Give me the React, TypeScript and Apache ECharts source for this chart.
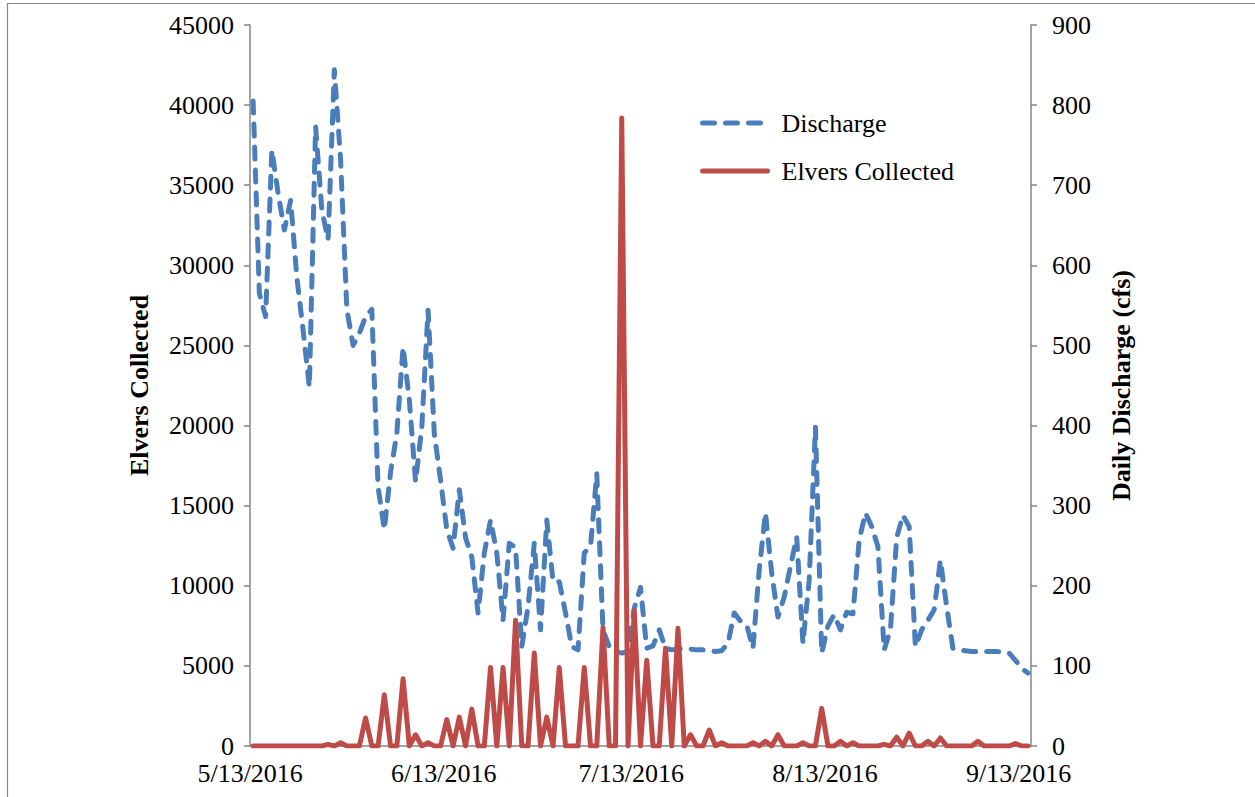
import React, { useEffect, useRef } from "react";
import * as echarts from "echarts";

const dayCount = 125;
const categories: string[] = [];
for (let i = 0; i < dayCount; i++) {
  const d = new Date(2016, 4, 13 + i);
  categories.push(`${d.getMonth() + 1}/${d.getDate()}/2016`);
}
const tickLabels = ["5/13/2016", "6/13/2016", "7/13/2016", "8/13/2016", "9/13/2016"];

// Daily discharge (cfs), right axis
const discharge = [
  805, 565, 536, 744, 690, 644, 681, 585, 519, 448,
  773, 669, 632, 844, 732, 545, 500, 515, 536, 545,
  323, 270, 342, 390, 498, 432, 330, 398, 544, 390,
  332, 270, 247, 320, 260, 236, 166, 241, 282, 241,
  157, 253, 248, 124, 174, 253, 145, 282, 205, 205,
  166, 124, 120, 241, 249, 340, 145, 124, 118, 116,
  118, 172, 198, 122, 125, 145, 122, 120, 121, 122,
  121, 120, 120, 119, 118, 119, 128, 166, 156, 151,
  122, 220, 291, 216, 161, 186, 224, 261, 128, 207,
  398, 116, 150, 164, 145, 167, 165, 257, 291, 274,
  249, 120, 145, 260, 288, 274, 124, 145, 157, 170,
  232, 174, 122, 120, 119, 118, 118, 118, 118, 118,
  117, 116, 107, 97, 91,
];

// Elvers collected, left axis
const elvers = [
  0, 0, 0, 0, 0, 0, 0, 0, 0, 0,
  0, 0, 100, 0, 200, 0, 0, 0, 1750, 0,
  0, 3200, 0, 0, 4200, 0, 700, 0, 200, 0,
  0, 1650, 0, 1800, 0, 2300, 0, 0, 4900, 0,
  4900, 0, 7850, 0, 0, 5800, 0, 1800, 0, 4900,
  0, 0, 0, 4900, 0, 0, 7400, 0, 0, 39200,
  0, 8450, 0, 5350, 0, 0, 6100, 0, 7350, 0,
  700, 0, 0, 1000, 0, 200, 0, 0, 0, 0,
  200, 0, 300, 0, 700, 0, 0, 0, 200, 0,
  0, 2350, 0, 0, 300, 0, 200, 0, 0, 0,
  0, 100, 0, 550, 0, 800, 0, 0, 300, 0,
  500, 0, 0, 0, 0, 0, 300, 0, 0, 0,
  0, 0, 150, 0, 0,
];

const FONT = "'Liberation Serif', 'Times New Roman', serif";
const AXIS_GRAY = "#868686";
const BLUE = "#4A7EBB";
const RED = "#BE4B48";
const DASH = [12, 11];

export default function App() {
  const ref = useRef<HTMLDivElement>(null);
  useEffect(() => {
    if (!ref.current) return;
    const chart = echarts.init(ref.current, undefined, { renderer: "svg" });
    const isTick = (_i: number, v: string) => tickLabels.indexOf(v) >= 0;
    const plain = (v: number) => String(v);
    chart.setOption({
      animation: false,
      backgroundColor: "#ffffff",
      textStyle: { fontFamily: FONT, color: "#000" },
      graphic: [
        {
          type: "rect",
          shape: { x: 7.5, y: 3.5, width: 1300, height: 900 },
          style: { fill: "none", stroke: AXIS_GRAY, lineWidth: 1.2 },
          silent: true,
          z: -1,
        },
      ],
      grid: { left: 250, right: 224, top: 25, bottom: 51, containLabel: false },
      legend: {
        orient: "vertical",
        left: 700,
        top: 110,
        padding: 0,
        itemWidth: 65,
        itemHeight: 14,
        itemGap: 22,
        itemStyle: { opacity: 0 },
        textStyle: { fontFamily: FONT, fontSize: 26, color: "#000", padding: [0, 0, 0, 9] },
        data: [
          {
            name: "Discharge",
            itemStyle: { opacity: 0 },
            lineStyle: { color: BLUE, width: 5, type: DASH, cap: "round" },
          },
          {
            name: "Elvers Collected",
            itemStyle: { opacity: 0 },
            lineStyle: { color: RED, width: 5, type: "solid", cap: "round" },
          },
        ],
      },
      xAxis: {
        type: "category",
        data: categories,
        boundaryGap: true,
        axisLine: { lineStyle: { color: AXIS_GRAY, width: 1.5 } },
        axisTick: { interval: isTick, length: 6, lineStyle: { color: AXIS_GRAY, width: 1.5 } },
        axisLabel: {
          interval: isTick,
          fontFamily: FONT,
          fontSize: 26,
          color: "#000",
          margin: 14,
          padding: [0, 6, 0, 0],
        },
        splitLine: { show: false },
      },
      yAxis: [
        {
          type: "value",
          position: "left",
          min: 0,
          max: 45000,
          interval: 5000,
          name: "Elvers Collected",
          nameLocation: "middle",
          nameGap: 98,
          nameTextStyle: { fontFamily: FONT, fontSize: 26, fontWeight: "bold", color: "#000" },
          axisLine: { show: true, lineStyle: { color: AXIS_GRAY, width: 1.5 } },
          axisTick: { show: true, length: 6, lineStyle: { color: AXIS_GRAY, width: 1.5 } },
          axisLabel: { fontFamily: FONT, fontSize: 26, color: "#000", margin: 16, formatter: plain },
          splitLine: { show: false },
        },
        {
          type: "value",
          position: "right",
          min: 0,
          max: 900,
          interval: 100,
          name: "Daily Discharge (cfs)",
          nameLocation: "middle",
          nameGap: 77,
          nameTextStyle: { fontFamily: FONT, fontSize: 26, fontWeight: "bold", color: "#000" },
          axisLine: { show: true, lineStyle: { color: AXIS_GRAY, width: 1.5 } },
          axisTick: { show: true, length: 6, lineStyle: { color: AXIS_GRAY, width: 1.5 } },
          axisLabel: { fontFamily: FONT, fontSize: 26, color: "#000", margin: 21, formatter: plain },
          splitLine: { show: false },
        },
      ],
      series: [
        {
          name: "Discharge",
          type: "line",
          yAxisIndex: 1,
          data: discharge,
          symbol: "none",
          lineStyle: { color: BLUE, width: 5, type: DASH, cap: "round", join: "round" },
          itemStyle: { color: BLUE },
          z: 2,
        },
        {
          name: "Elvers Collected",
          type: "line",
          yAxisIndex: 0,
          data: elvers,
          symbol: "none",
          lineStyle: { color: RED, width: 5, cap: "round", join: "round" },
          itemStyle: { color: RED },
          z: 3,
        },
      ],
    });
    return () => chart.dispose();
  }, []);
  return (
    <div
      ref={ref}
      style={{ position: "fixed", left: 0, top: 0, width: 1255, height: 797, background: "#fff" }}
    />
  );
}
